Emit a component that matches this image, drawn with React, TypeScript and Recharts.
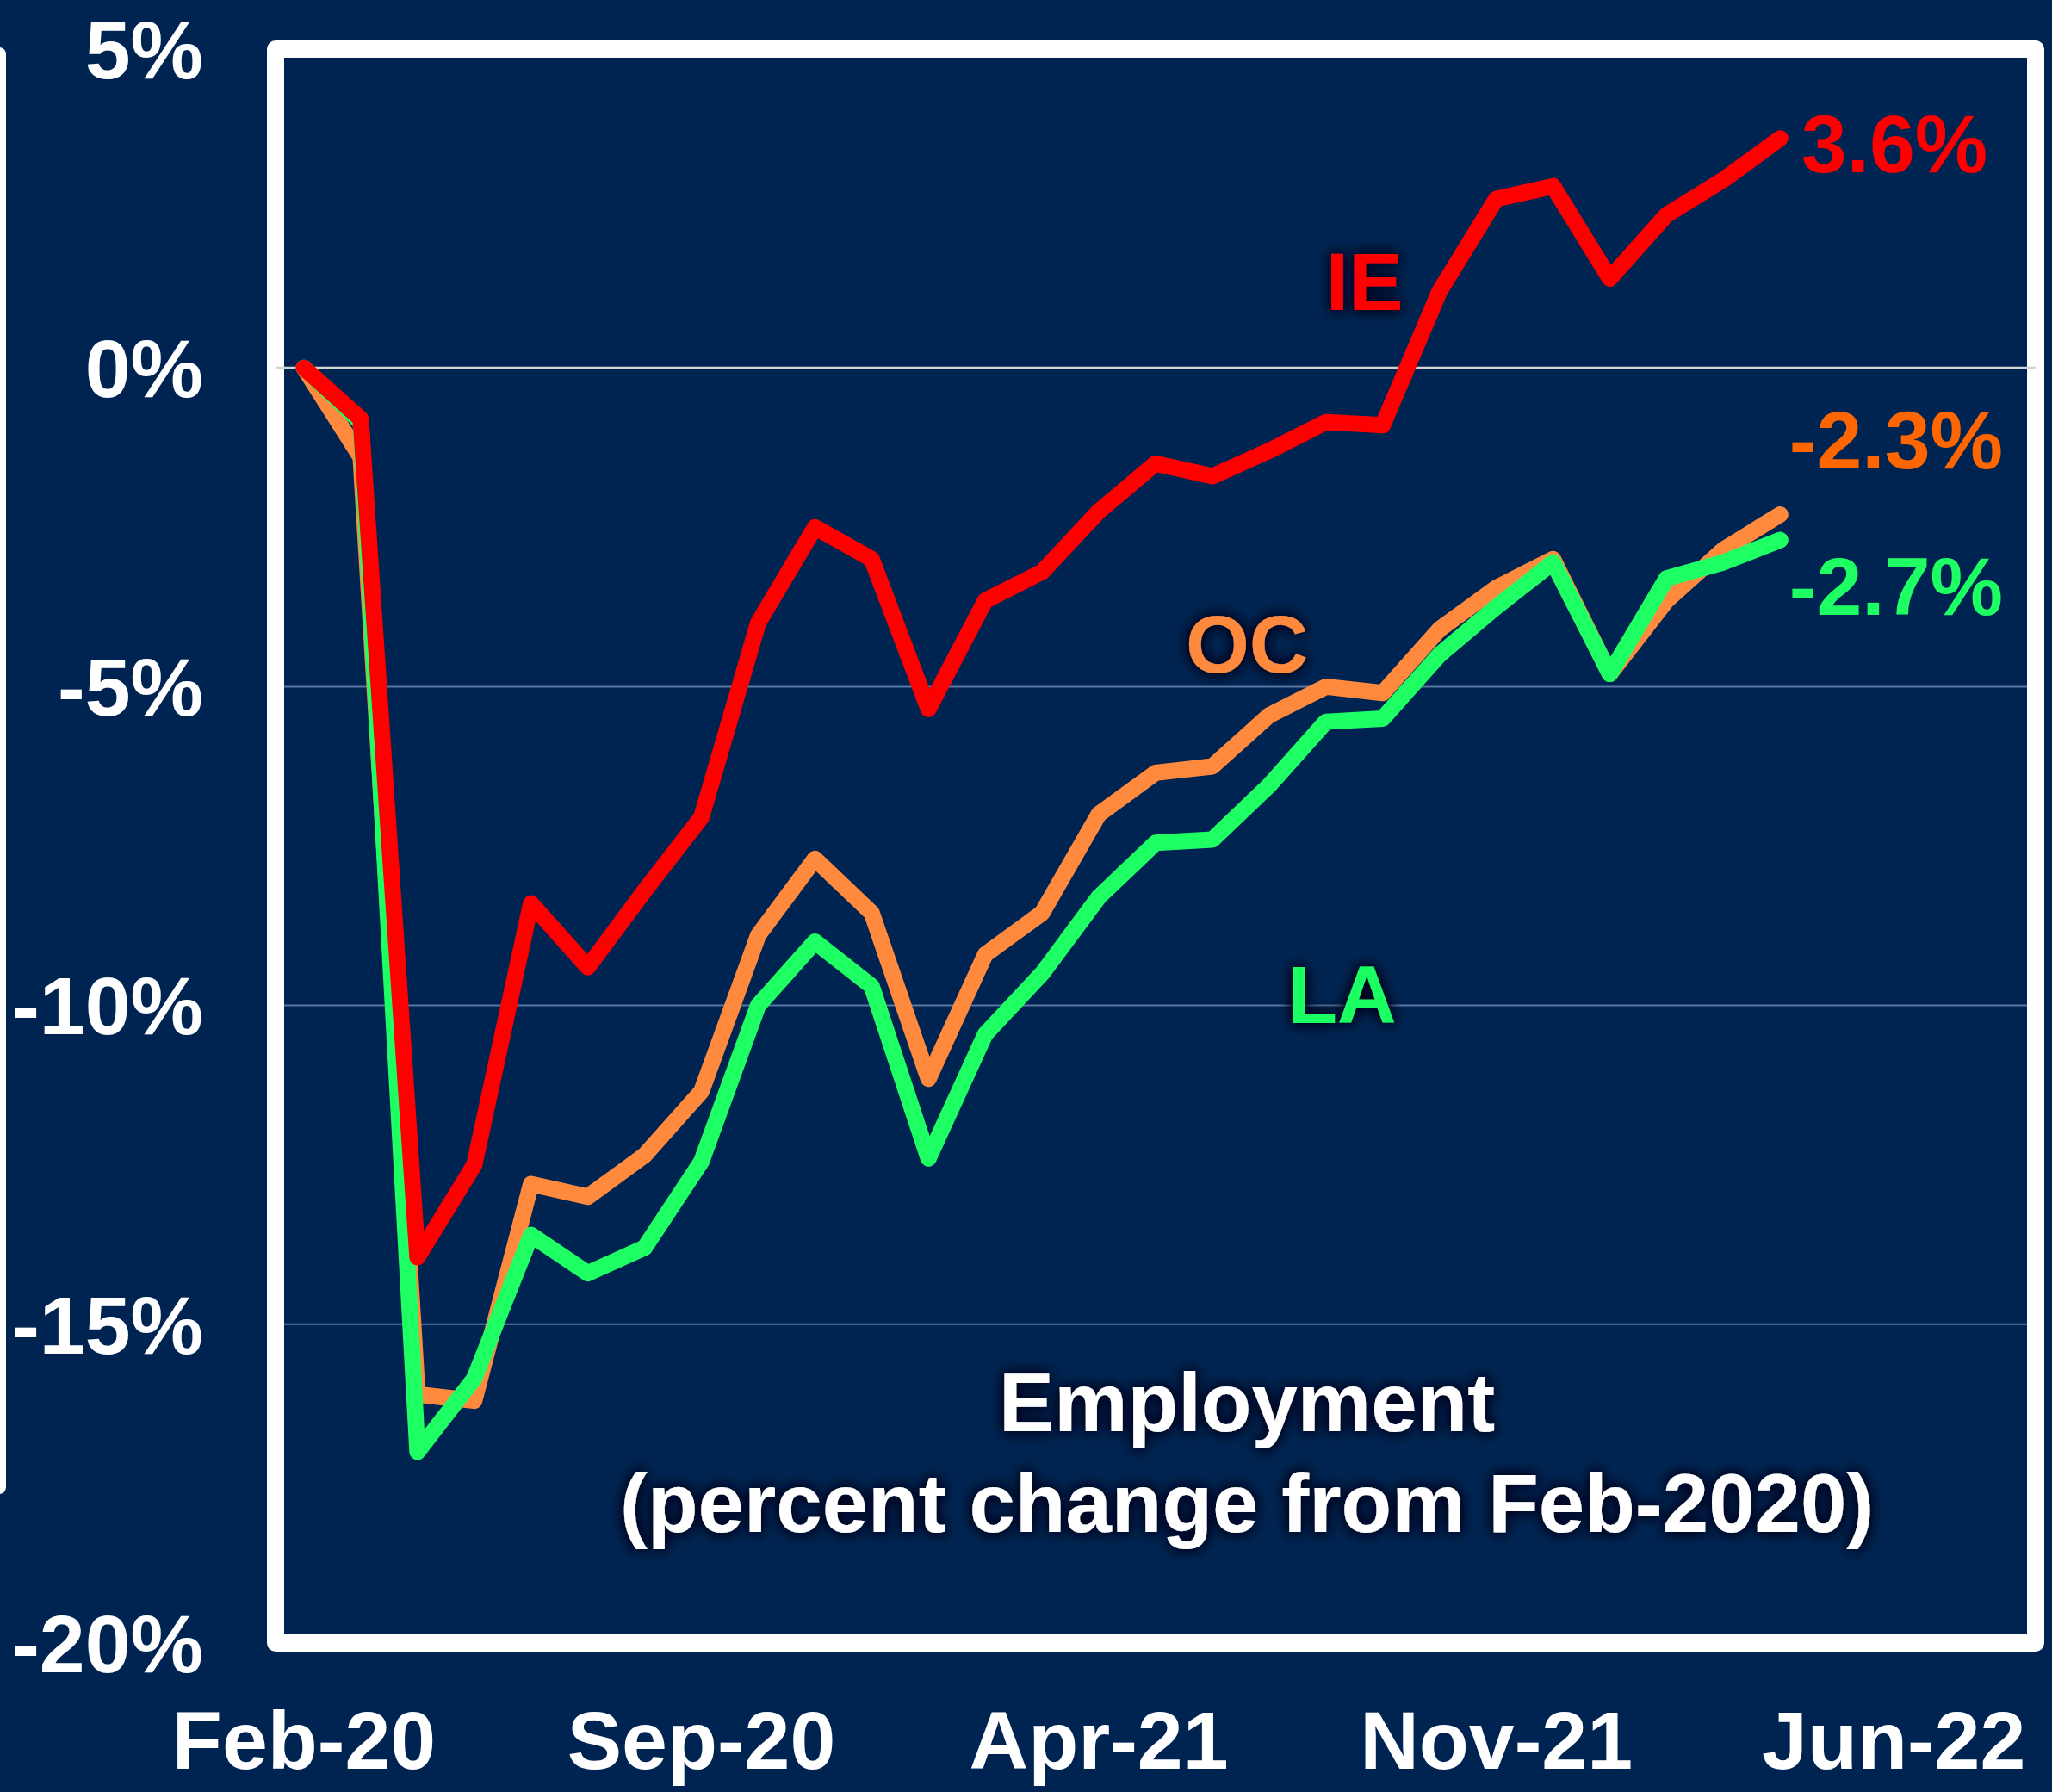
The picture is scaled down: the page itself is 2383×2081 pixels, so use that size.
import React from "react";
import {
  LineChart,
  Line,
  XAxis,
  YAxis,
  CartesianGrid,
  ReferenceLine,
  ReferenceArea,
  ReferenceDot,
} from "recharts";

// ---- data ----
const months = [
  "Feb-20", "Mar-20", "Apr-20", "May-20", "Jun-20", "Jul-20", "Aug-20", "Sep-20",
  "Oct-20", "Nov-20", "Dec-20", "Jan-21", "Feb-21", "Mar-21", "Apr-21", "May-21",
  "Jun-21", "Jul-21", "Aug-21", "Sep-21", "Oct-21", "Nov-21", "Dec-21", "Jan-22",
  "Feb-22", "Mar-22", "Apr-22",
];
const ieValues = [
  0, -0.8, -13.95, -12.5, -8.4, -9.4, -8.2, -7.05, -4.0, -2.5, -3.0, -5.35, -3.65,
  -3.2, -2.25, -1.5, -1.7, -1.3, -0.85, -0.9, 1.2, 2.65, 2.85, 1.4, 2.4, 2.95, 3.6,
];
const ocValues = [
  0, -1.4, -16.1, -16.2, -12.8, -13.0, -12.35, -11.35, -8.9, -7.7, -8.55, -11.15, -9.2,
  -8.55, -7.0, -6.35, -6.25, -5.45, -5.0, -5.1, -4.1, -3.45, -3.0, -4.8, -3.65, -2.85, -2.3,
];
const laValues = [
  0, -0.85, -17.0, -15.85, -13.6, -14.2, -13.8, -12.45, -10.0, -9.0, -9.7, -12.4, -10.45,
  -9.5, -8.3, -7.45, -7.4, -6.55, -5.55, -5.5, -4.5, -3.75, -3.05, -4.8, -3.3, -3.05, -2.7,
];
const xTickPositions = [0, 7, 14, 21, 28];
const xTickLabels = ["Feb-20", "Sep-20", "Apr-21", "Nov-21", "Jun-22"];
const yTicks = [5, 0, -5, -10, -15, -20];
const titleLines = ["Employment", "(percent change from Feb-2020)"];

const data = months.map((m, i) => ({
  t: i,
  month: m,
  IE: ieValues[i],
  OC: ocValues[i],
  LA: laValues[i],
}));

// ---- style ----
const BG = "#002452";
const RED = "#FF0000";
const ORANGE = "#FF8A3D";
const ORANGE_LABEL = "#FF6600";
const GREEN = "#1EFF64";
const FONT = "'Liberation Sans', Arial, sans-serif";
const FS = 95;
const LW = 19;

const textShape =
  (label: string, color: string, anchor: "start" | "middle" | "end", glow: boolean) =>
  (p: any) => (
    <text
      x={p.cx}
      y={p.cy}
      fill={color}
      fontFamily={FONT}
      fontWeight="bold"
      fontSize={FS}
      textAnchor={anchor}
      dominantBaseline="central"
      filter={glow ? "url(#glow)" : undefined}
    >
      {label}
    </text>
  );

const titleShape = (p: any) => (
  <g filter="url(#glow)">
    <text
      x={p.cx}
      y={p.cy}
      fill="#fff"
      fontFamily={FONT}
      fontWeight="bold"
      fontSize={96}
      textAnchor="middle"
      dominantBaseline="central"
    >
      {titleLines[0]}
    </text>
    <text
      x={p.cx}
      y={p.cy + 117}
      fill="#fff"
      fontFamily={FONT}
      fontWeight="bold"
      fontSize={96}
      textAnchor="middle"
      dominantBaseline="central"
    >
      {titleLines[1]}
    </text>
  </g>
);

export default function App() {
  return (
    <div
      style={{
        position: "absolute",
        left: 0,
        top: 0,
        width: 2383,
        height: 2081,
        background: BG,
        overflow: "hidden",
      }}
    >
      <svg width={0} height={0} style={{ position: "absolute" }}>
        <defs>
          <filter id="glow" x="-30%" y="-60%" width="160%" height="220%">
            <feGaussianBlur in="SourceAlpha" stdDeviation="8" result="b" />
            <feFlood floodColor="#000a20" floodOpacity="1" />
            <feComposite in2="b" operator="in" result="s" />
            <feMerge>
              <feMergeNode in="s" />
              <feMergeNode in="s" />
              <feMergeNode in="SourceGraphic" />
            </feMerge>
          </filter>
        </defs>
      </svg>
      <div
        style={{
          position: "absolute",
          left: -12,
          top: 55,
          width: 19,
          height: 1680,
          background: "#fff",
          borderRadius: 8,
        }}
      />
      <LineChart
        width={2383}
        height={2081}
        data={data}
        margin={{ top: 57, right: 19, bottom: 23, left: 20 }}
      >
        <CartesianGrid vertical={false} stroke="#5877A2" strokeWidth={2} />
        <XAxis
          dataKey="t"
          type="number"
          domain={[-0.5, 30.5]}
          ticks={xTickPositions}
          tickFormatter={(v: number) => xTickLabels[xTickPositions.indexOf(v)]}
          axisLine={false}
          tickLine={false}
          tickSize={0}
          tickMargin={79}
          height={150}
          interval={0}
          tick={{ fill: "#fff", fontSize: FS, fontWeight: "bold", fontFamily: FONT }}
        />
        <YAxis
          type="number"
          domain={[-20, 5]}
          ticks={yTicks}
          tickFormatter={(v: number) => `${v}%`}
          axisLine={false}
          tickLine={false}
          tickSize={0}
          tickMargin={84}
          width={300}
          interval={0}
          tick={{ fill: "#fff", fontSize: FS, fontWeight: "bold", fontFamily: FONT }}
        />
        <ReferenceLine y={0} stroke="#D4D4D4" strokeWidth={3} />
        <Line
          dataKey="OC"
          stroke={ORANGE}
          strokeWidth={LW}
          dot={false}
          strokeLinecap="round"
          strokeLinejoin="round"
          isAnimationActive={false}
        />
        <Line
          dataKey="LA"
          stroke={GREEN}
          strokeWidth={LW}
          dot={false}
          strokeLinecap="round"
          strokeLinejoin="round"
          isAnimationActive={false}
        />
        <Line
          dataKey="IE"
          stroke={RED}
          strokeWidth={LW}
          dot={false}
          strokeLinecap="round"
          strokeLinejoin="round"
          isAnimationActive={false}
        />
        <ReferenceArea
          x1={-0.5}
          x2={30.5}
          y1={-20}
          y2={5}
          fill="none"
          fillOpacity={0}
          stroke="#fff"
          strokeWidth={20}
          strokeLinejoin="round"
          ifOverflow="visible"
        />
        <ReferenceDot x={18.68} y={1.35} r={0} shape={textShape("IE", RED, "middle", true)} />
        <ReferenceDot x={16.61} y={-4.33} r={0} shape={textShape("OC", ORANGE, "middle", true)} />
        <ReferenceDot x={18.28} y={-9.83} r={0} shape={textShape("LA", GREEN, "middle", true)} />
        <ReferenceDot x={26.37} y={3.51} r={0} shape={textShape("3.6%", RED, "start", false)} />
        <ReferenceDot x={26.16} y={-1.13} r={0} shape={textShape("-2.3%", ORANGE_LABEL, "start", false)} />
        <ReferenceDot x={26.16} y={-3.43} r={0} shape={textShape("-2.7%", GREEN, "start", false)} />
        <ReferenceDot x={16.61} y={-16.23} r={0} shape={titleShape} />
      </LineChart>
    </div>
  );
}
